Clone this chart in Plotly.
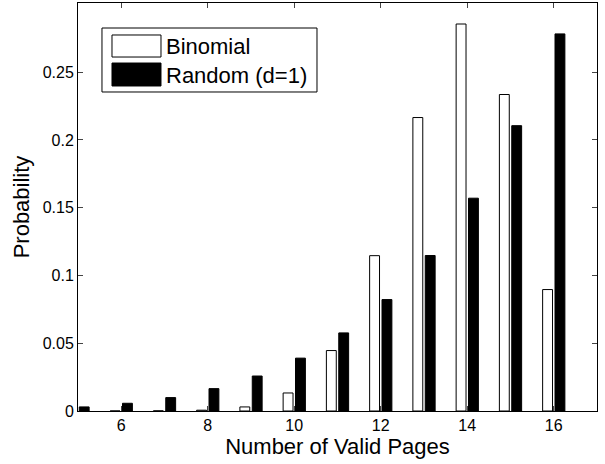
import plotly.graph_objects as go

pages = [5, 6, 7, 8, 9, 10, 11, 12, 13, 14, 15, 16]
binomial = [0.0, 0.00001, 0.0001, 0.0006, 0.003, 0.0133, 0.0446, 0.1146, 0.2165, 0.2855, 0.2335, 0.0896]
random_d1 = [0.003, 0.0057, 0.0099, 0.0165, 0.0258, 0.039, 0.0576, 0.0822, 0.1147, 0.157, 0.2105, 0.2782]
series_names = ["Binomial", "Random (d=1)"]

x_ticks = [6, 8, 10, 12, 14, 16]
y_ticks = [0, 0.05, 0.1, 0.15, 0.2, 0.25]
y_tick_labels = ["0", "0.05", "0.1", "0.15", "0.2", "0.25"]

bar_w = 0.2286
font = "Liberation Sans, Arial, Helvetica, sans-serif"

fig = go.Figure()
fig.add_trace(go.Bar(x=pages, y=binomial, name=series_names[0], width=bar_w, offset=-0.257,
                     marker=dict(color="white", line=dict(color="black", width=1))))
fig.add_trace(go.Bar(x=pages, y=random_d1, name=series_names[1], width=bar_w, offset=0.029,
                     marker=dict(color="black", line=dict(color="black", width=1))))

# legend drawn as a framed box with large swatches (like the original)
shapes = [
    dict(type="rect", xref="paper", yref="paper", x0=0.0462, x1=0.4605, y0=0.7819, y1=0.9387,
         line=dict(color="black", width=1), fillcolor="white", layer="above"),
    dict(type="rect", xref="paper", yref="paper", x0=0.0655, x1=0.1599, y0=0.8676, y1=0.9216,
         line=dict(color="black", width=1), fillcolor="white", layer="above"),
    dict(type="rect", xref="paper", yref="paper", x0=0.0655, x1=0.1599, y0=0.7966, y1=0.8529,
         line=dict(color="black", width=1), fillcolor="black", layer="above"),
]
annotations = [
    dict(xref="paper", yref="paper", x=0.1665, y=0.8946, text=series_names[0], showarrow=False,
         xanchor="left", yanchor="middle", font=dict(size=22, family=font, color="black")),
    dict(xref="paper", yref="paper", x=0.1665, y=0.8235, text=series_names[1], showarrow=False,
         xanchor="left", yanchor="middle", font=dict(size=22, family=font, color="black")),
]

fig.update_layout(
    width=605, height=464,
    margin=dict(l=78, r=8, t=3, b=53, autoexpand=False),
    paper_bgcolor="white", plot_bgcolor="white",
    barmode="overlay",
    font=dict(family=font, color="black", size=16),
    showlegend=False,
    shapes=shapes,
    annotations=annotations,
    xaxis=dict(range=[5, 17], tickvals=x_ticks, ticks="inside", ticklen=5,
               showline=True, linecolor="black", linewidth=1, mirror="ticks",
               showgrid=False, zeroline=False, tickfont=dict(size=16), automargin=False,
               title=dict(text="Number of Valid Pages", font=dict(size=22), standoff=4)),
    yaxis=dict(range=[0, 0.301], tickvals=y_ticks, ticktext=y_tick_labels,
               ticks="inside", ticklen=5,
               showline=True, linecolor="black", linewidth=1, mirror="ticks",
               showgrid=False, zeroline=False, tickfont=dict(size=16), automargin=False,
               title=dict(text="Probability", font=dict(size=22), standoff=6)),
)

fig.write_html("out.html", config={"displayModeBar": False},
               post_script="document.body.style.margin='0';document.body.style.padding='0';")
